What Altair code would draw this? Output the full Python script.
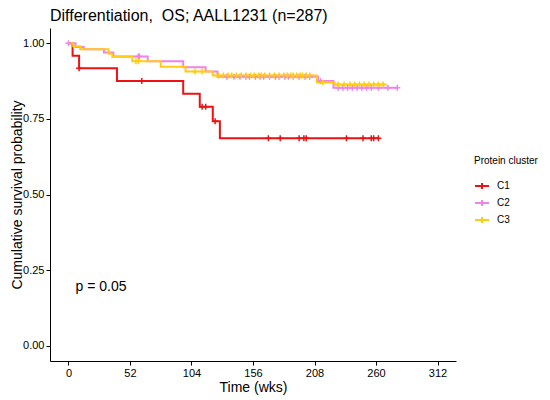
import altair as alt
import pandas as pd

FONT = "Liberation Sans"

groups = ["C1", "C2", "C3"]
colors = ["#EE1111", "#EE82EE", "#FFCC11"]

# Kaplan-Meier step points (event time in weeks, survival after event)
c1_times = [0, 3.5, 9, 41, 97, 111, 122, 128]
c1_surv = [1.0, 0.958, 0.917, 0.875, 0.833, 0.790, 0.742, 0.686]
c1_end = 262
c1_censor = [9, 62, 113, 116, 124, 169, 179, 195, 199, 201, 235, 249, 256, 258, 262]

c2_times = [0, 6, 13, 30, 38, 67, 97, 116, 126, 211, 224]
c2_surv = [1.0, 0.987, 0.980, 0.969, 0.956, 0.940, 0.920, 0.906, 0.889, 0.875, 0.853]
c2_end = 278
c2_censor = [0, 59, 60, 134, 140, 145, 150, 153, 158, 162, 165, 170, 175, 178, 183, 186,
             190, 195, 200, 204, 213, 228, 232, 236, 240, 244, 248, 252, 256, 262, 270, 278]

c3_times = [0, 4, 10, 34, 37, 54, 78, 99, 122, 210, 225]
c3_surv = [1.0, 0.990, 0.980, 0.965, 0.955, 0.940, 0.922, 0.906, 0.893, 0.870, 0.863]
c3_end = 269
c3_censor = [57, 59, 107, 113, 127, 131, 135, 138, 142, 146, 150, 154, 157, 161, 163, 166,
             170, 174, 178, 182, 185, 188, 190, 193, 196, 198, 201, 204, 215, 228, 233, 238,
             242, 246, 250, 254, 258, 262, 266]

x_ticks = [0, 52, 104, 156, 208, 260, 312]
y_ticks = [0, 0.25, 0.5, 0.75, 1.0]

series = {
    "C1": (c1_times, c1_surv, c1_end, c1_censor),
    "C2": (c2_times, c2_surv, c2_end, c2_censor),
    "C3": (c3_times, c3_surv, c3_end, c3_censor),
}

line_rows, cens_rows = [], []
for g, (ts, ss, end, cens) in series.items():
    for t, s in zip(ts, ss):
        line_rows.append({"group": g, "time": t, "surv": s})
    line_rows.append({"group": g, "time": end, "surv": ss[-1]})
    for c in cens:
        s_at = 1.0
        for t, s in zip(ts, ss):
            if t <= c:
                s_at = s
        cens_rows.append({"group": g, "time": c, "surv": s_at})

lines_df = pd.DataFrame(line_rows)
cens_df = pd.DataFrame(cens_rows)

xs = alt.Scale(domain=[-15.6, 327.6], nice=False, zero=False)
ys = alt.Scale(domain=[-0.05, 1.05], nice=False, zero=False)
cs = alt.Scale(domain=groups, range=colors)

x_enc = alt.X("time:Q", scale=xs, title="Time (wks)",
              axis=alt.Axis(values=x_ticks, format="d", titleBaseline="alphabetic",
                            titleY=30))
y_enc = alt.Y("surv:Q", scale=ys, title="Cumulative survival probability",
              axis=alt.Axis(values=y_ticks, format=".2f", titleBaseline="alphabetic",
                            titleX=-29, titleY=166.5, titleAngle=-90, titleAlign="center"))

lines = alt.Chart(lines_df).mark_line(interpolate="step-after", strokeWidth=2).encode(
    x=x_enc, y=y_enc,
    color=alt.Color("group:N", scale=cs, title="Protein cluster",
                    legend=alt.Legend(orient="none", legendX=424, legendY=128,
                                      symbolType="M-1,0L1,0M0,-0.42L0,0.42",
                                      symbolSize=196, symbolStrokeWidth=2,
                                      rowPadding=2, titlePadding=12, labelOffset=7,
                                      labelFontSize=10, titleFontSize=10,
                                      titleFontWeight="normal", titleColor="black",
                                      labelColor="black", labelFont=FONT, titleFont=FONT)),
)

cens = alt.Chart(cens_df).mark_point(shape="M-1,0L1,0M0,-1L0,1", filled=False,
                                     strokeWidth=1.5, size=36, opacity=1).encode(
    x="time:Q", y="surv:Q",
    color=alt.Color("group:N", scale=cs, legend=None),
)

ptext = alt.Chart(pd.DataFrame({"time": [6], "surv": [0.195], "label": ["p = 0.05"]})).mark_text(
    align="left", baseline="middle", fontSize=14, font=FONT, color="black").encode(
    x="time:Q", y="surv:Q", text="label:N")

chart = alt.layer(lines, cens, ptext).properties(
    width=406, height=333,
    title=alt.TitleParams("Differentiation, \u00a0OS; AALL1231 (n=287)", anchor="start",
                          frame="group", offset=4, fontSize=16,
                          fontWeight="normal", font=FONT, color="black"),
    autosize=alt.AutoSizeParams(type="none"),
    padding={"left": 42, "top": 20, "right": 84, "bottom": 38},
).configure_view(stroke=None).configure_axis(
    grid=False, domainColor="black", domainWidth=1, tickColor="black", tickSize=4,
    tickWidth=1, labelColor="black", labelFontSize=11, labelFont=FONT,
    titleFont=FONT, titleFontSize=14, titleFontWeight="normal", titleColor="black",
    labelPadding=2,
)

chart.save("out.html", embed_options={"renderer": "svg", "actions": False})
